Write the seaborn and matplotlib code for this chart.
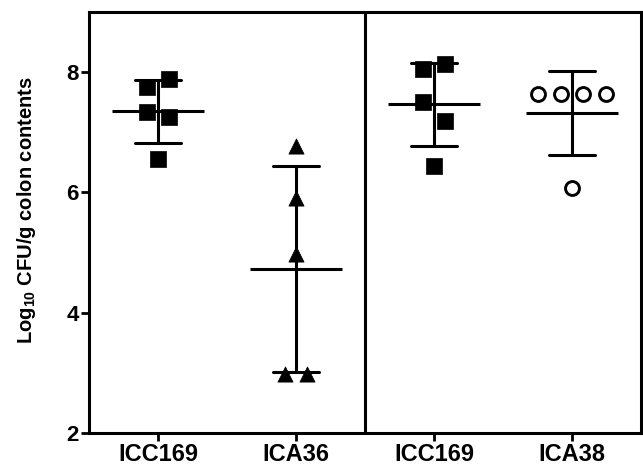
import numpy as np
import pandas as pd
import matplotlib
matplotlib.use("Agg")
import matplotlib.pyplot as plt
import seaborn as sns

# --- data ---
group_labels = ["ICC169", "ICA36", "ICC169", "ICA38"]
icc169_a = [7.75, 7.88, 7.33, 7.25, 6.55]
ica36 = [6.78, 5.90, 4.97, 2.98, 2.98]
icc169_b = [8.06, 8.13, 7.51, 7.18, 6.44]
ica38 = [7.63, 7.63, 7.63, 7.63, 6.07]

series = [icc169_a, ica36, icc169_b, ica38]
markers = ["s", "^", "s", "o"]
faces = ["black", "black", "black", "white"]

sns.set_style("ticks")
plt.rcParams["font.family"] = ["Liberation Sans", "DejaVu Sans"]
plt.rcParams["font.weight"] = "bold"
plt.rcParams["mathtext.fontset"] = "custom"
plt.rcParams["mathtext.rm"] = "Liberation Sans:bold"
plt.rcParams["mathtext.bf"] = "Liberation Sans:bold"
for key in ["text.color", "axes.labelcolor", "xtick.color", "ytick.color"]:
    plt.rcParams[key] = "black"


def spread(vals, gap=0.35, step=0.165):
    # GraphPad-like scatter: points with close values are spread symmetrically
    vals = np.asarray(vals, dtype=float)
    order = np.argsort(vals, kind="stable")
    offs = np.zeros(len(vals))
    clusters, cur = [], [order[0]]
    for a, b in zip(order[:-1], order[1:]):
        if vals[b] - vals[a] < gap:
            cur.append(b)
        else:
            clusters.append(cur)
            cur = [b]
    clusters.append(cur)
    for c in clusters:
        c = sorted(c)
        n = len(c)
        for k, idx in enumerate(c):
            offs[idx] = (k - (n - 1) / 2) * step
    return offs


rows = []
for i, vals in enumerate(series):
    offs = spread(vals)
    for v, o in zip(vals, offs):
        rows.append({"group": i, "value": v, "xpos": i + o})
df = pd.DataFrame(rows)

fig = plt.figure(figsize=(6.43, 4.70), dpi=100)
ax = fig.add_axes([0.1384, 0.0787, 0.8585, 0.8958])

# mean +/- SD
sns.pointplot(data=df, x="group", y="value", native_scale=True, errorbar="sd",
              capsize=0.33, markers="_", markersize=66, markeredgewidth=2.2,
              linestyle="none", color="black", err_kws={"linewidth": 2.2},
              ax=ax, zorder=2)

# individual points
for i in range(len(series)):
    sub = df[df["group"] == i]
    sns.scatterplot(data=sub, x="xpos", y="value", marker=markers[i],
                    s=100 if markers[i] == "o" else 120,
                    facecolor=faces[i], edgecolor="black",
                    linewidth=2.1 if markers[i] == "o" else 0.5,
                    ax=ax, zorder=3, legend=False)

ax.axvline(1.5, color="black", lw=2.2, zorder=4)

ax.set_xlim(-0.5, 3.5)
ax.set_ylim(2, 9)
ax.set_yticks([2, 4, 6, 8])
ax.set_xticks(range(len(group_labels)))
ax.set_xticklabels(group_labels, fontsize=17, fontweight="bold")
ax.tick_params(axis="y", labelsize=16, width=2, length=5.5, pad=2,
               colors="black")
ax.tick_params(axis="x", width=2, length=5.5, pad=2, colors="black")
for lab in ax.get_yticklabels():
    lab.set_fontweight("bold")

for sp in ax.spines.values():
    sp.set_visible(True)
    sp.set_linewidth(2.2)
    sp.set_color("black")

ax.set_xlabel("")
ax.set_ylabel(r"Log$_{\mathbf{10}}$ CFU/g colon contents", fontsize=14.5,
              fontweight="bold", color="black")
ax.yaxis.set_label_coords(-0.092, 0.53)

fig.savefig("out.png", dpi=100)
